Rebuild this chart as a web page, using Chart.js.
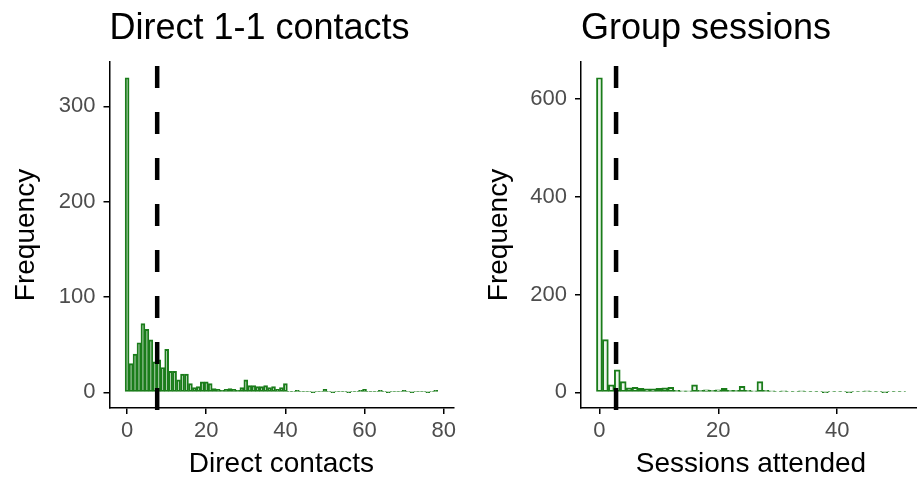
<!DOCTYPE html>
<html>
<head>
<meta charset="utf-8">
<script src="https://cdn.jsdelivr.net/npm/chart.js@4"></script>
<style>
  html, body { margin: 0; padding: 0; background: #fff; overflow: hidden; width: 917px; height: 481px; }
  .panel { position: absolute; top: 0; height: 481px; }
  #left { left: 0; width: 460px; }
  #right { left: 473px; width: 448px; }
</style>
</head>
<body>
<div class="panel" id="left"><canvas id="contacts-chart"></canvas></div>
<div class="panel" id="right"><canvas id="sessions-chart"></canvas></div>
<script>
// Histograms, one bin per integer value starting at 0
const contactCounts = [
  330, 30, 40, 52, 72, 66, 55, 32, 34, 26,
  45, 22, 22, 13, 19, 19, 9, 5, 6, 11,
  11, 9, 4, 3, 2, 3, 4, 3, 2, 5,
  13, 7, 7, 6, 6, 7, 5, 6, 3, 5,
  9, 1, 1, 2, 1, 1, 1, 0, 1, 1,
  3, 1, 0, 1, 1, 1, 0, 1, 1, 2,
  3, 1, 1, 1, 2, 1, 0, 1, 1, 1,
  2, 1, 0, 1, 1, 1, 0, 1, 2
];
const contactMean = 7.6;
const contactXTicks = [0, 20, 40, 60, 80];
const contactYTicks = [0, 100, 200, 300];

const sessionCounts = [
  644, 108, 15, 46, 22, 9, 10, 8, 7, 7,
  8, 9, 10, 4, 3, 3, 15, 4, 5, 4,
  5, 8, 4, 4, 12, 4, 3, 22, 4, 3,
  2, 3, 1, 2, 3, 1, 1, 1, 0, 1,
  1, 1, 0, 1, 1, 3, 1, 1, 0, 1,
  1, 1
];
const sessionMean = 2.8;
const sessionXTicks = [0, 20, 40];
const sessionYTicks = [0, 200, 400, 600];

const FONT = "'Liberation Sans', Arial, sans-serif";
const LINE_GREEN = '#1b7d1b';

// dashed vertical line at the mean
const meanLine = {
  id: 'meanLine',
  afterDatasetsDraw(chart, args, opts) {
    const { ctx, chartArea: a, scales: { x } } = chart;
    const px = x.getPixelForValue(opts.value);
    ctx.save();
    ctx.strokeStyle = '#000';
    ctx.lineWidth = 4.5;
    ctx.setLineDash([22, 24]);
    ctx.beginPath();
    ctx.moveTo(px, a.bottom + 2);
    ctx.lineTo(px, a.top);
    ctx.stroke();
    ctx.restore();
  }
};

// panel title, left-aligned with the plot panel like ggplot
const panelTitle = {
  id: 'panelTitle',
  afterDraw(chart, args, opts) {
    const { ctx, chartArea } = chart;
    ctx.save();
    ctx.font = '36px ' + FONT;
    ctx.fillStyle = '#000';
    ctx.textBaseline = 'alphabetic';
    ctx.fillText(opts.text, chartArea.left, 39);
    ctx.restore();
  }
};

function histChart(id, o) {
  const n = o.counts.length;
  const xPad = 0.05 * n;
  const yMax = Math.max(...o.counts);
  const axisLine = { display: true, color: '#000', width: 1.5 };
  const tickGrid = { display: true, drawOnChartArea: false, drawTicks: true, tickLength: 6, color: '#000', lineWidth: 1.5, offset: false };
  return new Chart(document.getElementById(id), {
    type: 'bar',
    data: {
      datasets: [{
        data: o.counts.map((c, i) => ({ x: i, y: c })),
        backgroundColor: 'rgba(20,120,20,0.08)',
        borderColor: LINE_GREEN,
        borderWidth: 1.3,
        borderSkipped: false,
        barPercentage: 1,
        categoryPercentage: 1,
        minBarLength: 1
      }]
    },
    plugins: [meanLine, panelTitle],
    options: {
      responsive: true,
      maintainAspectRatio: false,
      animation: false,
      layout: { padding: { top: 62, left: 0, right: o.padRight, bottom: 0 } },
      plugins: {
        legend: { display: false },
        tooltip: { enabled: false },
        meanLine: { value: o.mean },
        panelTitle: { text: o.title }
      },
      scales: {
        x: {
          type: 'linear',
          offset: false,
          min: -0.5 - xPad,
          max: n - 0.5 + xPad,
          afterBuildTicks: s => { s.ticks = o.xTicks.map(v => ({ value: v })); },
          afterFit: s => { s.height = 73; },
          border: axisLine,
          grid: tickGrid,
          ticks: { font: { family: FONT, size: 22 }, color: '#4d4d4d', padding: 4, maxRotation: 0 },
          title: { display: true, text: o.xTitle, color: '#000', font: { family: FONT, size: 28 }, padding: { top: 0, bottom: 0 } }
        },
        y: {
          min: -0.05 * yMax,
          max: 1.05 * yMax,
          afterBuildTicks: s => { s.ticks = o.yTicks.map(v => ({ value: v })); },
          afterFit: s => { s.width = o.yWidth; },
          border: axisLine,
          grid: tickGrid,
          ticks: { font: { family: FONT, size: 22 }, color: '#4d4d4d', padding: 8 },
          title: { display: true, text: 'Frequency', color: '#000', font: { family: FONT, size: 28 }, padding: { top: 9, bottom: 0 } }
        }
      }
    }
  });
}

histChart('contacts-chart', {
  counts: contactCounts, mean: contactMean, xTicks: contactXTicks, yTicks: contactYTicks,
  title: 'Direct 1-1 contacts', xTitle: 'Direct contacts', yWidth: 109.5, padRight: 3.5
});
histChart('sessions-chart', {
  counts: sessionCounts, mean: sessionMean, xTicks: sessionXTicks, yTicks: sessionYTicks,
  title: 'Group sessions', xTitle: 'Sessions attended', yWidth: 108, padRight: 0
});
</script>
</body>
</html>
